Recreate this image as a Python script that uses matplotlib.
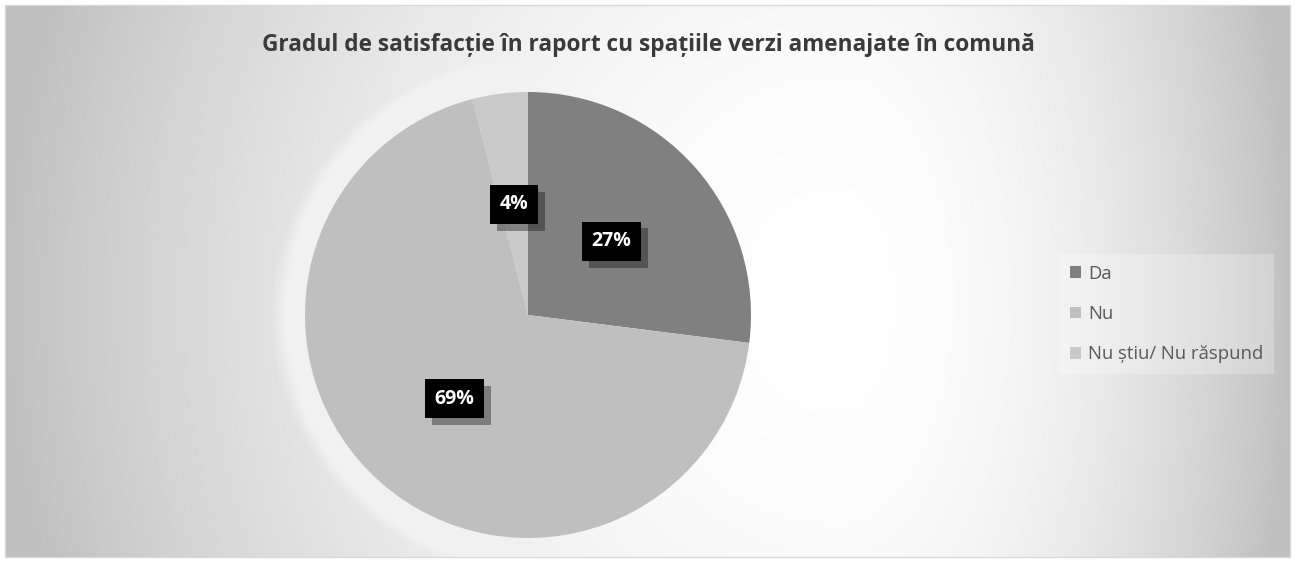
import numpy as np
import matplotlib
matplotlib.use("Agg")
import matplotlib.pyplot as plt
import matplotlib.patheffects as pe
from matplotlib.patches import Circle, Rectangle

plt.rcParams['font.family'] = ['Open Sans', 'DejaVu Sans']

title = "Gradul de satisfacție în raport cu spațiile verzi amenajate în comună"
categories = ["Da", "Nu", "Nu știu/ Nu răspund"]
values = [27, 69, 4]
colors = ["#808080", "#bfbfbf", "#c9c9c9"]

W, H = 1296, 562
fig = plt.figure(figsize=(W / 100, H / 100), dpi=100)
fig.patch.set_facecolor("white")

# background: chart area with a soft gradient, lightest right of the pie
left, top, right, bottom = 5, 5, 1290, 557
bg = fig.add_axes([left / W, 1 - bottom / H, (right - left) / W, (bottom - top) / H])
xs = np.arange(left, right)
ys = np.arange(top, bottom)
X, Y = np.meshgrid(xs, ys)
cx, cy = 840, 300
rx = np.where(X < cx, cx - left, right - cx)
t = np.sqrt(((X - cx) / rx) ** 2 + ((Y - cy) / 900.0) ** 2)
t = np.clip(t, 0, 1) ** 2.0
shade = 1.0 - (1.0 - 192 / 255) * t
rgb = np.dstack([shade, shade, shade])
bg.imshow(rgb, extent=(left, right, bottom, top), aspect="auto", interpolation="bilinear")
bg.set_xlim(left, right)
bg.set_ylim(bottom, top)
bg.axis("off")
fig.patches.append(Rectangle((left / W, 1 - bottom / H), (right - left) / W, (bottom - top) / H,
                             transform=fig.transFigure, fill=False, edgecolor="#d9d9d9",
                             linewidth=1, zorder=5))

fig.text(648 / W, 1 - 45 / H, title, ha="center", va="center",
         fontsize=16.3, fontweight="bold", color="#3a3a3a")

# pie
pcx, pcy, r = 528, 315, 223
ax = fig.add_axes([(pcx - r) / W, 1 - (pcy + r) / H, 2 * r / W, 2 * r / H])
ax.set_facecolor("none")

# soft white glow around the pie
n = 30
for k in range(n):
    ax.add_patch(Circle((0, 0), 1 + 0.005 * (n - k), facecolor="white",
                        edgecolor="none", alpha=0.07, zorder=0, clip_on=False))

wedges, texts, autotexts = ax.pie(values, colors=colors, startangle=90, counterclock=False,
                                  autopct="%1.0f%%", pctdistance=0.5,
                                  wedgeprops=dict(linewidth=0),
                                  textprops=dict(color="white", fontweight="bold", fontsize=14))
for w in wedges:
    w.set_zorder(2)
for at in autotexts:
    at.set_zorder(4)
    at.set_bbox(dict(facecolor="black", edgecolor="none", boxstyle="square,pad=0.5"))
    at.get_bbox_patch().set_path_effects([pe.SimplePatchShadow(offset=(5, -5), alpha=0.35),
                                          pe.Normal()])
ax.set_xlim(-1, 1)
ax.set_ylim(-1, 1)
ax.set_aspect("equal")
ax.axis("off")

leg = fig.legend(wedges, categories, loc="center left",
                 bbox_to_anchor=(1050 / W, 1 - 314 / H),
                 fontsize=13.3, frameon=True, facecolor="white", edgecolor="none",
                 framealpha=0.25, handlelength=0.6, handleheight=0.6,
                 handletextpad=0.35, labelspacing=1.2, borderpad=0.6, fancybox=False)
for txt in leg.get_texts():
    txt.set_color("#595959")

fig.savefig("out.png", dpi=100)
